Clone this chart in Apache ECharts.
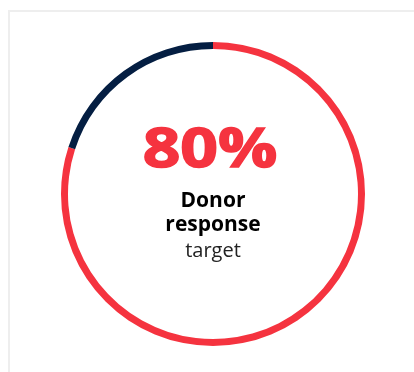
<!DOCTYPE html>
<html>
<head>
<meta charset="utf-8">
<script src="https://cdn.jsdelivr.net/npm/echarts@6/dist/echarts.min.js"></script>
<style>
  html, body { margin: 0; padding: 0; background: #ffffff; }
  #chart { width: 414px; height: 372px; }
</style>
</head>
<body>
<div id="chart"></div>
<script>
// Ring segments: share reached vs. remainder (percent)
const segmentNames = ['Donor response', 'Remaining'];
const segmentValues = [80, 20];
const segmentColors = ['#f5333f', '#041e42'];

// Caption lines under the headline figure
const captionBold = ['Donor', 'response'];
const captionLight = 'target';

const chart = echarts.init(document.getElementById('chart'), null, { renderer: 'canvas' });

const cx = 213, cy = 194;
const font = '"Open Sans", "Noto Sans", sans-serif';

chart.setOption({
  animation: false,
  graphic: [
    {
      type: 'rect',
      shape: { x: 9, y: 11, width: 600, height: 600 },
      style: { fill: 'none', stroke: '#eeeeee', lineWidth: 2 },
      silent: true
    },
    {
      // headline figure, widened and thickened for an extra-heavy look
      type: 'text',
      x: cx - 3, y: 179,
      scaleX: 1.22,
      style: {
        text: segmentValues[0] + '%',
        fill: segmentColors[0],
        stroke: segmentColors[0],
        lineWidth: 1.5,
        font: 'bold 54px ' + font,
        textAlign: 'center',
        textVerticalAlign: 'bottom'
      }
    },
    {
      type: 'text',
      x: cx, y: 212,
      style: {
        text: captionBold[0],
        fill: '#000000',
        font: 'bold 21px ' + font,
        textAlign: 'center',
        textVerticalAlign: 'bottom'
      }
    },
    {
      type: 'text',
      x: cx, y: 236,
      style: {
        text: captionBold[1],
        fill: '#000000',
        font: 'bold 21px ' + font,
        textAlign: 'center',
        textVerticalAlign: 'bottom'
      }
    },
    {
      type: 'text',
      x: cx, y: 261,
      style: {
        text: captionLight,
        fill: '#222222',
        font: '20px ' + font,
        textAlign: 'center',
        textVerticalAlign: 'bottom'
      }
    }
  ],
  series: [
    {
      type: 'pie',
      center: [cx, cy],
      radius: [145, 152],
      startAngle: 90,
      clockwise: true,
      silent: true,
      label: { show: false },
      labelLine: { show: false },
      itemStyle: { borderWidth: 0 },
      data: segmentNames.map((name, i) => ({
        name,
        value: segmentValues[i],
        itemStyle: { color: segmentColors[i] }
      }))
    }
  ]
});
</script>
</body>
</html>
